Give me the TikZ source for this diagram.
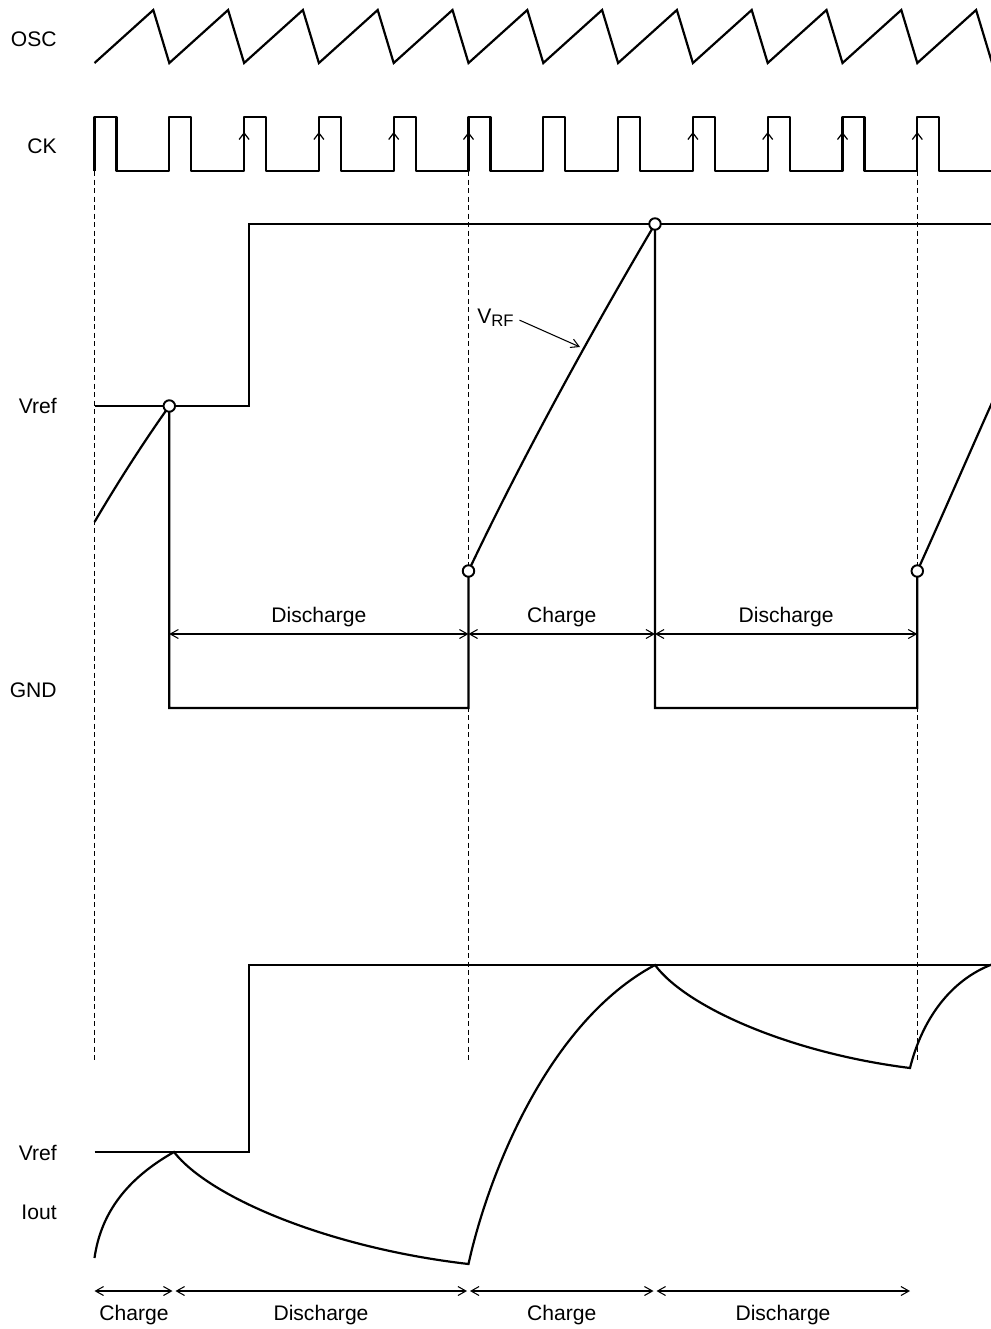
\documentclass[tikz,border=0pt]{standalone}
\usepackage{fontspec}
\setmainfont{Liberation Sans}
\usetikzlibrary{arrows.meta}

\begin{document}
\begin{tikzpicture}[x=0.2mm, y=-0.2mm,
    sigline/.style={line width=1.25pt},
    refline/.style={line width=0.75pt},
    guide/.style={line width=0.6pt, dash pattern=on 1mm off 0.7mm},
    dimline/.style={line width=0.6pt, {Straight Barb[length=1.6mm,width=1.8mm]}-{Straight Barb[length=1.6mm,width=1.8mm]}},
    ckarrow/.style={line width=0.7pt, -{Straight Barb[length=1.3mm,width=2mm]}},
    vrfarrow/.style={line width=0.6pt, -{Straight Barb[length=1.6mm,width=1.8mm]}},
    knot/.style={circle, draw, fill=white, line width=1.1pt, inner sep=0pt, minimum size=2.3mm},
    lbl/.style={font=\fontsize{12}{14}\selectfont, inner sep=0pt}]

    \clip (0,0) rectangle (991,1329);

    %etichette a sinistra
    \node[lbl, anchor=base east] (osc) at (57,46) {OSC};
    \node[lbl, anchor=base east] (ck) at (57,153) {CK};
    \node[lbl, anchor=base east] (vref1) at (57,413) {Vref};
    \node[lbl, anchor=base east] (gnd) at (57,697) {GND};
    \node[lbl, anchor=base east] (vref2) at (57,1160) {Vref};
    \node[lbl, anchor=base east] (iout) at (57,1219) {Iout};

    %linee tratteggiate
    \foreach \x in {94.5,468.5,917.3}
        \draw[guide] (\x,171) -- (\x,1062);

    %disegna OSC
    \draw[sigline] (94.5,63) \foreach \k in {0,...,11} {
        -- ({94.5+74.8*\k+58.8},10) -- ({94.5+74.8*(\k+1)},63) };

    %disegna CK
    \draw[sigline, line join=round] (94.5,171) \foreach \k in {0,...,11} {
        -- ({94.5+74.8*\k},171) -- ({94.5+74.8*\k},117)
        -- ({94.5+74.8*\k+22},117) -- ({94.5+74.8*\k+22},171) } -- (995,171);
    \foreach \k in {2,3,4,5,8,9,10,11}
        \draw[ckarrow] ({94.5+74.8*\k},145) -- ({94.5+74.8*\k},132);

    %disegna Vref e VRF
    \draw[refline] (94.5,406) -- (249,406) -- (249,224) -- (995,224);
    \draw[sigline] (94.5,522) .. controls (118,482) and (145,440) .. (169.3,406)
        -- (169.3,708) -- (468.5,708) -- (468.5,571)
        .. controls (520,462) and (590,334) .. (655,224)
        -- (655,708) -- (917.3,708) -- (917.3,571)
        .. controls (945,510) and (975,440) .. (1000,385);
    \foreach \p [count=\i] in {(169.3,406),(468.5,571),(655,224),(917.3,571)}
        \node[knot] (k\i) at \p {};

    \node[lbl, anchor=base west] (vrf) at (477,323) {V\raisebox{-0.35ex}{\fontsize{9.5}{10}\selectfont RF}};
    \coordinate (vrfpt) at (580,347);
    \draw[vrfarrow, shorten <=1.2mm] (vrf.east) -- (vrfpt);

    %frecce di mezzo
    \draw[dimline] (169.3,634) -- (468.5,634);
    \draw[dimline] (468.5,634) -- (655,634);
    \draw[dimline] (655,634) -- (917.3,634);
    \node[lbl, anchor=base] (dis1) at (318.9,622) {Discharge};
    \node[lbl, anchor=base] (cha1) at (561.8,622) {Charge};
    \node[lbl, anchor=base] (dis2) at (786.2,622) {Discharge};

    %disegna Vref e Iout
    \draw[refline] (94.5,1152) -- (249,1152) -- (249,965) -- (995,965);
    \draw[sigline] (94.5,1258) .. controls (101,1212) and (128,1178) .. (174,1152)
        .. controls (210,1198) and (330,1248) .. (468.5,1264)
        .. controls (488,1175) and (548,1022) .. (655,965)
        .. controls (686,1007) and (790,1053) .. (910,1068)
        .. controls (922,1020) and (950,980) .. (993,964);

    %frecce in basso
    \draw[dimline] (94.5,1291) -- (172.5,1291);
    \draw[dimline] (175.5,1291) -- (467,1291);
    \draw[dimline] (470,1291) -- (653.5,1291);
    \draw[dimline] (656.5,1291) -- (910,1291);
    \node[lbl, anchor=base] (cha2) at (134,1320) {Charge};
    \node[lbl, anchor=base] (dis3) at (321,1320) {Discharge};
    \node[lbl, anchor=base] (cha3) at (561.8,1320) {Charge};
    \node[lbl, anchor=base] (dis4) at (783,1320) {Discharge};

\end{tikzpicture}
\end{document}
